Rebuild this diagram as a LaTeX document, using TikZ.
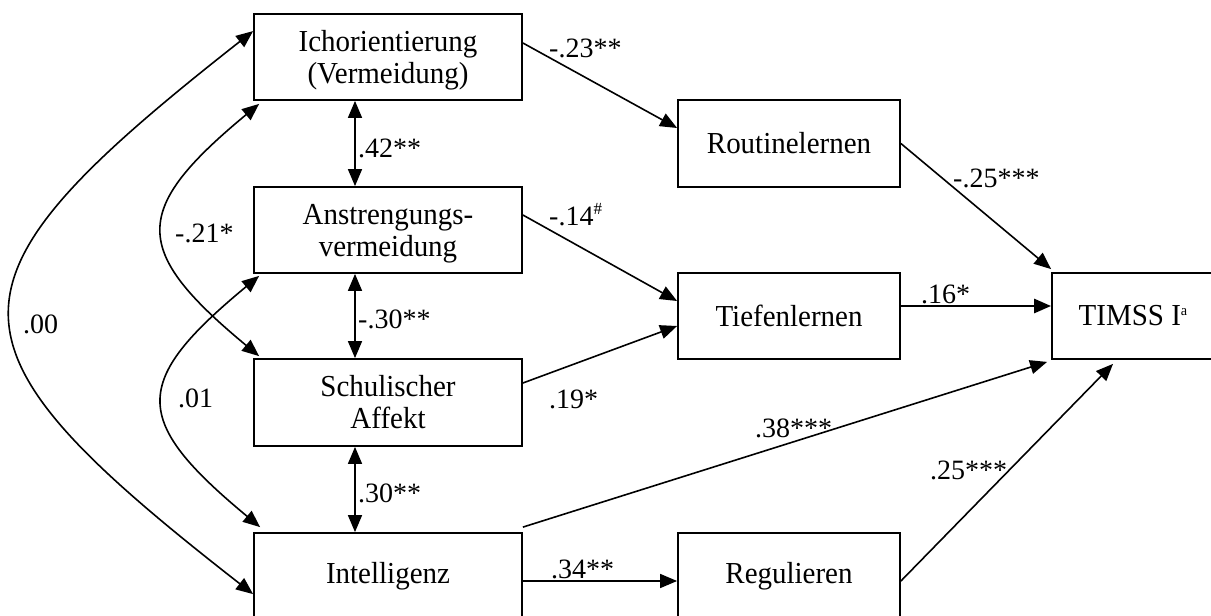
\documentclass[tikz,border=0pt]{standalone}
\usepackage{fontspec}
\setmainfont{Liberation Serif}
\newfontfamily\boxfont[FakeStretch=0.95]{Liberation Serif}
\usetikzlibrary{arrows.meta,calc}
\begin{document}
\begin{tikzpicture}[x=1pt,y=-1pt,
  box/.style={draw,line width=1.8pt,inner sep=0pt,align=center,font=\boxfont\fontsize{30.5}{32}\selectfont},
  lbox/.style={box,minimum width=268pt,minimum height=86pt},
  mbox/.style={box,minimum width=222pt,minimum height=86pt},
  lab/.style={inner sep=0pt,anchor=base west,font=\fontsize{28}{30}\selectfont},
  conn/.style={line width=1.6pt},
  thick conn/.style={line width=2.8pt},
  arr/.style={-{Triangle[length=17pt,width=14pt]}},
  darr/.style={{Triangle[length=17pt,width=14pt]}-{Triangle[length=17pt,width=14pt]}}]
\useasboundingbox (0,0) rectangle (1211,616);
\clip (0,0) rectangle (1211,616);

% boxes
\node[lbox] (ich) at (388,57) {Ichorientierung\\\raisebox{0pt}[\height][0pt]{(Vermeidung)}};
\node[lbox] (anst) at (388,230) {Anstrengungs-\\\raisebox{0pt}[\height][0pt]{vermeidung}};
\node[lbox,minimum height=87pt] (schul) at (388,402.5) {Schulischer\\Affekt};
\node[lbox] (intel) at (388,576) {Intelligenz};
\node[mbox,minimum height=87pt] (rout) at (789,143.5) {Routinelernen};
\node[mbox] (tief) at (789,316) {Tiefenlernen};
\node[mbox] (regul) at (789,576) {Regulieren};
\node[box,minimum width=162pt,minimum height=86pt] (timss) at (1133,316) {TIMSS I\raisebox{10pt}{\fontsize{15}{15}\selectfont a}};

% vertical correlations
\coordinate (vx) at (355,0);
\draw[conn,darr] (ich.south -| vx) -- (anst.north -| vx);
\draw[conn,darr] (anst.south -| vx) -- (schul.north -| vx);
\draw[conn,darr] (schul.south -| vx) -- (intel.north -| vx);

% curved correlations
\draw[conn,darr] ([yshift=-18pt]ich.north west) .. controls (-69,284) and (-69,343) .. ([yshift=-62pt]intel.north west);
\draw[conn,darr] ([xshift=6pt,yshift=-3pt]ich.south west) .. controls (131,210) and (131,250) .. ([xshift=6pt,yshift=2pt]schul.north west);
\draw[conn,darr] ([xshift=6pt,yshift=-2pt]anst.south west) .. controls (131,382) and (131,420) .. ([xshift=7pt,yshift=5pt]intel.north west);

% paths
\draw[conn,arr] ([yshift=14pt]ich.east) -- ([yshift=15.5pt]rout.west);
\draw[conn,arr] ([yshift=15pt]anst.east) -- ([yshift=15pt]tief.west);
\draw[conn,arr] ([yshift=19.5pt]schul.east) -- ([yshift=-10pt]tief.west);
\draw[conn,arr] (rout.east) -- ([yshift=3pt]timss.north west);
\draw[thick conn,arr] ([yshift=10pt]tief.east) -- ([yshift=10pt]timss.west);
\draw[conn,arr] ([yshift=5pt]intel.north east) -- ([xshift=-4pt,yshift=-2pt]timss.south west);
\draw[conn,arr] ([yshift=-5pt]intel.east) -- ([yshift=-5pt]regul.west);
\draw[conn,arr] ([yshift=-5pt]regul.east) -- ([xshift=-20pt,yshift=-4pt]timss.south);

% labels
\node[lab] (l1) at (358,157) {.42**};
\node[lab] (l2) at (358,328) {-.30**};
\node[lab] (l3) at (358,502) {.30**};
\node[lab] (l4) at (175,242) {-.21*};
\node[lab] (l5) at (23,333) {.00};
\node[lab] (l6) at (178,407) {.01};
\node[lab] (l7) at (549,57) {-.23**};
\node[lab] (l8) at (549,225) {-.14\raisebox{11pt}{\fontsize{17}{17}\selectfont\#}};
\node[lab] (l9) at (953,187) {-.25***};
\node[lab] (l10) at (921,303) {.16*};
\node[lab] (l11) at (549,408) {.19*};
\node[lab] (l12) at (755,437) {.38***};
\node[lab] (l13) at (551,578) {.34**};
\node[lab] (l14) at (930,479) {.25***};
\end{tikzpicture}
\end{document}
